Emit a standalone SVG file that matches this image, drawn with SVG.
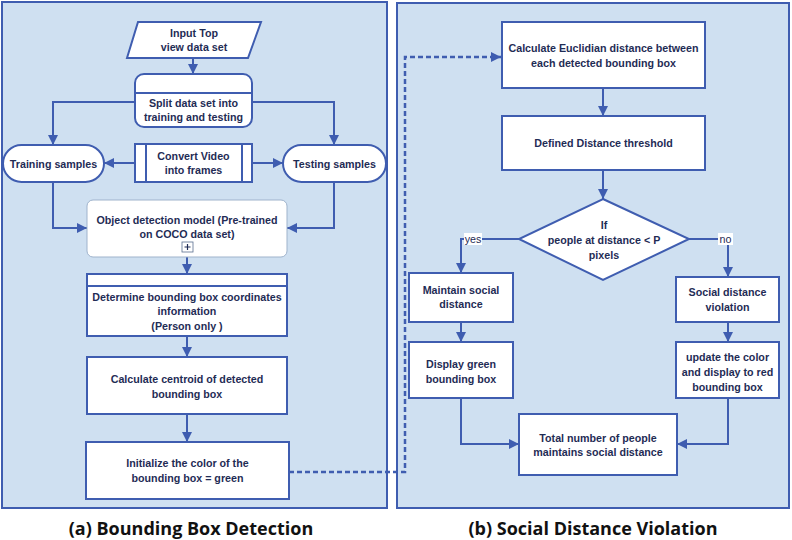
<svg xmlns="http://www.w3.org/2000/svg" width="792" height="540" viewBox="0 0 792 540">
<defs>
<marker id="ah" markerUnits="userSpaceOnUse" markerWidth="10" markerHeight="10" viewBox="0 0 10 10" refX="10" refY="5" orient="auto">
<path d="M0,0 L10,5 L0,10 z" fill="#3f5db0"/>
</marker>
<style>
.panel{fill:#cfe0f1;stroke:#3f5db0;stroke-width:2}
.box{fill:#ffffff;stroke:#3f5db0;stroke-width:2}
.thin{fill:#ffffff;stroke:#9fb3cc;stroke-width:1}
.t{font-family:"Liberation Sans",Arial,sans-serif;font-weight:bold;font-size:10.7px;fill:#1f2c55;text-anchor:middle;dominant-baseline:central}
.cap{font-family:"Open Sans","Liberation Sans",sans-serif;font-weight:bold;font-size:18px;fill:#111111;text-anchor:middle;dominant-baseline:central}
.e{fill:none;stroke:#3f5db0;stroke-width:2;marker-end:url(#ah)}
.ln{fill:none;stroke:#3f5db0;stroke-width:2}
.d{fill:none;stroke:#3f5db0;stroke-width:2.5;stroke-dasharray:5 3;marker-end:url(#ah)}
</style>
</defs>
<rect class="panel" x="2" y="2" width="385" height="506"/>
<rect class="panel" x="397" y="3" width="392" height="505"/>

<g id="connectors">
<path class="e" d="M193,58 V74"/>
<path class="e" d="M135,102 H53 V145"/>
<path class="e" d="M252,102 H334 V145"/>
<path class="e" d="M135,163 H104"/>
<path class="e" d="M252,163 H283"/>
<path class="e" d="M53,182 V228 H87"/>
<path class="e" d="M334,182 V228 H287"/>
<path class="e" d="M187,257 V274"/>
<path class="e" d="M187,336 V357"/>
<path class="e" d="M187,414 V442"/>
<path class="d" d="M289,472 H405 V57 H501"/>
<path class="e" d="M603,88 V116"/>
<path class="e" d="M603,170 V199"/>
<path class="e" d="M519,239 H461 V273"/>
<path class="e" d="M689,239 H728 V277"/>
<path class="e" d="M461,322 V342"/>
<path class="e" d="M728,322 V342"/>
<path class="e" d="M461,398 V444 H519"/>
<path class="e" d="M728,398 V444 H677"/>
<rect x="464" y="233" width="18" height="12" fill="#ffffff"/>
<text class="t" x="473" y="239" style="font-weight:normal">yes</text>
<rect x="718" y="233" width="15" height="12" fill="#ffffff"/>
<text class="t" x="725.5" y="239" style="font-weight:normal">no</text>
</g>

<g id="input">
<polygon class="box" points="138,22 261,22 248,58 127,58"/>
<text class="t" x="194" y="33">Input Top</text>
<text class="t" x="194" y="47">view data set</text>
</g>
<g id="split">
<rect class="box" x="135" y="74" width="117" height="53" rx="9"/>
<line class="ln" x1="135" y1="93" x2="252" y2="93"/>
<text class="t" x="193.5" y="103">Split data set into</text>
<text class="t" x="193.5" y="117">training and testing</text>
</g>
<g id="training">
<rect class="box" x="3" y="145" width="101" height="37" rx="18.5"/>
<text class="t" x="53.5" y="163.5">Training samples</text>
</g>
<g id="testing">
<rect class="box" x="283" y="145" width="103" height="37" rx="18.5"/>
<text class="t" x="334.5" y="163.5">Testing samples</text>
</g>
<g id="convert">
<rect class="box" x="135" y="144" width="117" height="38"/>
<line class="ln" x1="146" y1="144" x2="146" y2="182"/>
<line class="ln" x1="242" y1="144" x2="242" y2="182"/>
<text class="t" x="193.5" y="156">Convert Video</text>
<text class="t" x="193.5" y="170">into frames</text>
</g>
<g id="objdet">
<rect class="thin" x="87" y="200" width="200" height="57" rx="6"/>
<text class="t" x="187" y="220">Object detection model  (Pre-trained</text>
<text class="t" x="187" y="234">on COCO data set)</text>
<rect x="182" y="242" width="11" height="10" fill="#ffffff" stroke="#5a6f90" stroke-width="0.8"/>
<path d="M187.5,244 V250 M184.5,247 H190.5" stroke="#1f2c55" stroke-width="1.2"/>
</g>
<g id="determine">
<rect class="box" x="87" y="274" width="200" height="62"/>
<line class="ln" x1="87" y1="286" x2="287" y2="286"/>
<text class="t" x="187" y="297">Determine bounding box coordinates</text>
<text class="t" x="187" y="311">information</text>
<text class="t" x="187" y="326">(Person only )</text>
</g>
<g id="centroid">
<rect class="box" x="87" y="357" width="200" height="57"/>
<text class="t" x="187" y="379">Calculate centroid of detected</text>
<text class="t" x="187" y="394">bounding box</text>
</g>
<g id="initialize">
<rect class="box" x="86" y="442" width="203" height="57"/>
<text class="t" x="187.5" y="463">Initialize the color of the</text>
<text class="t" x="187.5" y="478">bounding box = green</text>
</g>

<g id="euclid">
<rect class="box" x="502" y="22" width="203" height="66"/>
<text class="t" x="603.5" y="48">Calculate Euclidian distance between</text>
<text class="t" x="603.5" y="63">each detected bounding box</text>
</g>
<g id="threshold">
<rect class="box" x="502" y="116" width="203" height="54"/>
<text class="t" x="603.5" y="143">Defined Distance threshold</text>
</g>
<g id="decision">
<polygon class="box" points="603,199 689,239 603,280 519,239"/>
<text class="t" x="604" y="225">If</text>
<text class="t" x="604" y="240">people at distance &lt; P</text>
<text class="t" x="604" y="255">pixels</text>
</g>
<g id="maintain">
<rect class="box" x="409" y="273" width="104" height="49"/>
<text class="t" x="461" y="290">Maintain social</text>
<text class="t" x="461" y="304">distance</text>
</g>
<g id="display">
<rect class="box" x="409" y="342" width="104" height="56"/>
<text class="t" x="461" y="364">Display green</text>
<text class="t" x="461" y="379">bounding box</text>
</g>
<g id="violation">
<rect class="box" x="676" y="277" width="103" height="45"/>
<text class="t" x="727.5" y="292">Social distance</text>
<text class="t" x="727.5" y="307">violation</text>
</g>
<g id="update">
<rect class="box" x="676" y="342" width="103" height="56"/>
<text class="t" x="727.5" y="357">update the color</text>
<text class="t" x="727.5" y="372">and display to red</text>
<text class="t" x="727.5" y="387">bounding box</text>
</g>
<g id="total">
<rect class="box" x="519" y="414" width="158" height="61"/>
<text class="t" x="598" y="438">Total number of people</text>
<text class="t" x="598" y="452">maintains social distance</text>
</g>

<text class="cap" x="191" y="528">(a) Bounding Box Detection</text>
<text class="cap" x="593" y="528">(b) Social Distance Violation</text>
</svg>
